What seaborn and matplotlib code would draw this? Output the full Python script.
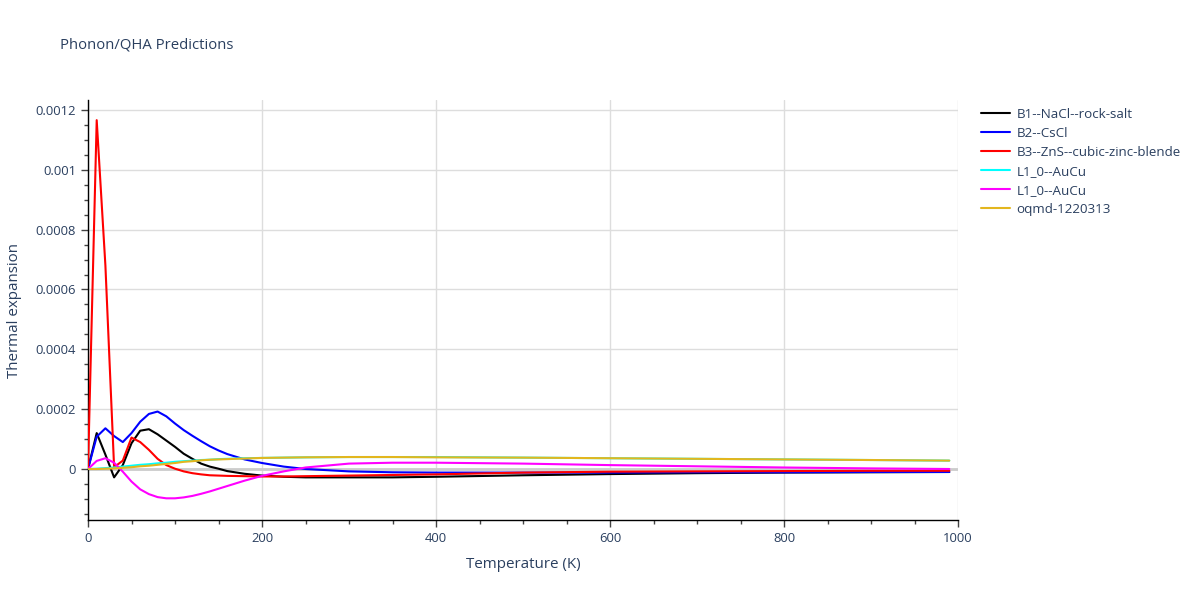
import numpy as np
import pandas as pd
import seaborn as sns
import matplotlib
matplotlib.use("Agg")
import matplotlib.pyplot as plt
from matplotlib.ticker import MultipleLocator, FuncFormatter

# temperature grid (K)
temps = [0, 10, 20, 30, 40, 50, 60, 70, 80, 90, 100, 110, 120, 130, 140, 150,
         160, 180, 200, 225, 250, 300, 350, 400, 500, 600, 700, 800, 900, 990]

b1_nacl = [0, 0.000120, 0.000048, -0.000028, 0.000013, 0.000086, 0.000128, 0.000133,
           0.000116, 0.000095, 0.000074, 0.000051, 0.000034, 0.000018, 0.000008, 0.000001,
           -0.000007, -0.000016, -0.000022, -0.000026, -0.000028, -0.000028, -0.000028,
           -0.000026, -0.000021, -0.000017, -0.000014, -0.000012, -0.000011, -0.000010]

b2_cscl = [0, 0.000108, 0.000136, 0.000110, 0.000090, 0.000120, 0.000158, 0.000184,
           0.000192, 0.000176, 0.000152, 0.000130, 0.000111, 0.000093, 0.000076, 0.000062,
           0.000050, 0.000032, 0.000020, 0.000008, 0.000000, -0.000008, -0.000011,
           -0.000012, -0.000012, -0.000012, -0.000011, -0.000011, -0.000010, -0.000010]

b3_zns = [0, 0.001166, 0.000680, 0.000006, 0.000028, 0.000105, 0.000090, 0.000064,
          0.000034, 0.000013, 0.000001, -0.000008, -0.000014, -0.000018, -0.000021, -0.000022,
          -0.000023, -0.000024, -0.000025, -0.000025, -0.000024, -0.000022, -0.000020,
          -0.000018, -0.000012, -0.000009, -0.000008, -0.000007, -0.000006, -0.000006]

l10_a = [0, 0.000001, 0.000003, 0.000005, 0.000008, 0.000011, 0.000014, 0.000016,
         0.000019, 0.000021, 0.000024, 0.000026, 0.000028, 0.000030, 0.000031, 0.000033,
         0.000034, 0.000036, 0.000037, 0.000038, 0.000039, 0.000040, 0.000040,
         0.000040, 0.000038, 0.000036, 0.000034, 0.000032, 0.000030, 0.000028]

l10_b = [0, 0.000027, 0.000036, 0.000021, -0.000009, -0.000042, -0.000068, -0.000084,
         -0.000094, -0.000098, -0.000098, -0.000095, -0.000090, -0.000083, -0.000075, -0.000066,
         -0.000057, -0.000039, -0.000023, -0.000008, 0.000005, 0.000018, 0.000021,
         0.000021, 0.000018, 0.000013, 0.000009, 0.000005, 0.000002, 0.000000]

oqmd = [0, 0.000000, 0.000001, 0.000002, 0.000004, 0.000006, 0.000009, 0.000011,
        0.000014, 0.000017, 0.000020, 0.000024, 0.000026, 0.000029, 0.000031, 0.000032,
        0.000033, 0.000035, 0.000037, 0.000038, 0.000039, 0.000040, 0.000040,
        0.000039, 0.000038, 0.000036, 0.000034, 0.000032, 0.000030, 0.000028]

labels = ["B1--NaCl--rock-salt", "B2--CsCl", "B3--ZnS--cubic-zinc-blende",
          "L1_0--AuCu", "L1_0--AuCu", "oqmd-1220313"]
colors = ["black", "blue", "red", "cyan", "magenta", "#e3b61e"]
series = [b1_nacl, b2_cscl, b3_zns, l10_a, l10_b, oqmd]

text_col = "#2a3f5f"

sns.set_theme(style="white")
plt.rcParams["font.family"] = ["Open Sans", "DejaVu Sans"]

fig = plt.figure(figsize=(12, 6), dpi=100)
ax = fig.add_axes([88 / 1200, 1 - 520 / 600, 870 / 1200, 420 / 600])

for vals, lab, col in zip(series, labels, colors):
    df = pd.DataFrame({"Temperature (K)": temps, "Thermal expansion": vals})
    sns.lineplot(data=df, x="Temperature (K)", y="Thermal expansion",
                 color=col, label=lab, linewidth=1.5, ax=ax, zorder=3)

ax.set_xlim(0, 1000)
ax.set_ylim(-0.0001705, 0.0012334)

ax.xaxis.set_major_locator(MultipleLocator(200))
ax.xaxis.set_minor_locator(MultipleLocator(50))
ax.yaxis.set_major_locator(MultipleLocator(0.0002))
ax.yaxis.set_minor_locator(MultipleLocator(0.00005))
ax.yaxis.set_major_formatter(FuncFormatter(lambda v, p: "0" if abs(v) < 1e-12 else "%g" % round(v, 6)))

ax.grid(True, which="major", color="#dddddd", linewidth=1)
ax.axhline(0, color="#cccccc", linewidth=2, zorder=2)
ax.set_axisbelow(True)

for s in ["top", "right"]:
    ax.spines[s].set_visible(False)
for s in ["left", "bottom"]:
    ax.spines[s].set_color("black")
    ax.spines[s].set_linewidth(1)

ax.tick_params(axis="both", which="major", direction="out", length=5, width=1,
               color="#444444", labelsize=9.4, labelcolor=text_col, left=True, bottom=True)
ax.tick_params(axis="both", which="minor", direction="out", length=3, width=1,
               color="#444444", left=True, bottom=True)

ax.set_xlabel("Temperature (K)", fontsize=10.9, color=text_col, labelpad=9)
ax.set_ylabel("Thermal expansion", fontsize=10.9, color=text_col, labelpad=10)

fig.text(60 / 1200, 1 - 45 / 600, "Phonon/QHA Predictions", fontsize=10.7,
         color=text_col, va="center", ha="left")

leg = ax.legend(loc="upper left", bbox_to_anchor=(981 / 1200, 1 - 108 / 600),
                bbox_transform=fig.transFigure, frameon=False, fontsize=9.6,
                handlelength=2.2, handletextpad=0.45, labelspacing=0.45,
                borderaxespad=0, borderpad=0)
for t in leg.get_texts():
    t.set_color(text_col)

fig.savefig("out.png", dpi=100)
